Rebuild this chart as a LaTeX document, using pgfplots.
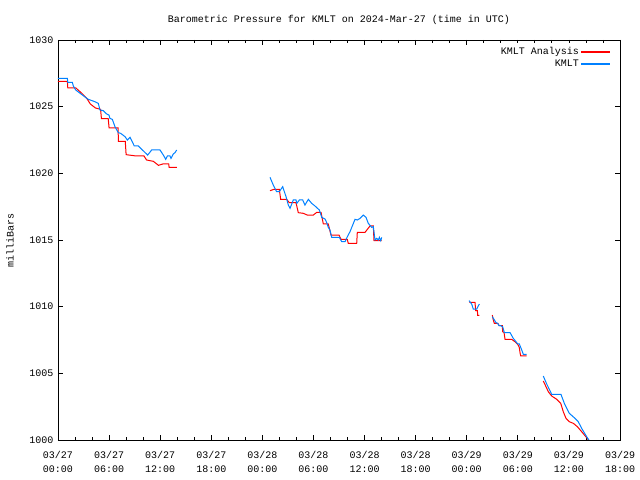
\documentclass[border=0pt]{standalone}
\usepackage{pgfplots}
\pgfplotsset{compat=1.18}
\usepackage{fontspec}
\setmainfont{Liberation Mono}
\definecolor{kred}{RGB}{255,0,0}
\definecolor{kblue}{RGB}{0,128,255}
\begin{document}
\begin{tikzpicture}
\useasboundingbox (0,0) rectangle (640bp,480bp);
\begin{axis}[
  at={(58bp,40bp)}, anchor=south west,
  scale only axis, width=562bp, height=400bp,
  xmin=0, xmax=66, ymin=1000, ymax=1030,
  font=\fontsize{10bp}{12bp}\selectfont,
  /pgf/number format/assume math mode=true,
  /pgf/number format/1000 sep={},
  xtick={0,6,...,66},
  xticklabels={{03/27\\00:00},{03/27\\06:00},{03/27\\12:00},{03/27\\18:00},{03/28\\00:00},{03/28\\06:00},{03/28\\12:00},{03/28\\18:00},{03/29\\00:00},{03/29\\06:00},{03/29\\12:00},{03/29\\18:00}},
  xticklabel style={align=center, font=\fontsize{10bp}{14bp}\selectfont, yshift=-8bp},
  minor x tick num=2,
  ytick={1000,1005,...,1030},
  yticklabel style={xshift=-1bp},
  major tick length=5bp, minor tick length=3bp,
  tick style={black, line width=0.8bp},
  axis line style={line width=0.8bp},
  title={Barometric Pressure for KMLT on 2024-Mar-27 (time in UTC)},
  title style={at={(0.5,1)}, anchor=south, yshift=9bp, inner sep=0pt},
  ylabel={milliBars},
  ylabel style={at={(axis description cs:-0.0854,0.5)}, anchor=center},
  unbounded coords=jump,
  legend style={at={(1,1)}, anchor=north east, xshift=-7bp, yshift=-3bp, draw=none, legend cell align=right, font=\fontsize{10bp}{12bp}\selectfont, row sep=0pt},
  legend plot pos=right,
]
\addplot[kred, line width=1bp, legend image code/.code={\fill[kred] (4bp,-0.5bp) rectangle (32bp,0.5bp);}] coordinates {
(0,1026.9)(1.1,1026.9)(1.15,1026.4)(2.1,1026.4)(2.8,1026.0)(3.4,1025.6)(3.8,1025.2)(4.4,1024.9)(5.0,1024.8)(5.1,1024.1)(5.9,1024.1)(6.0,1023.4)(7.05,1023.4)(7.1,1022.4)(7.9,1022.4)(8.0,1021.4)(9.2,1021.3)(10.1,1021.3)(10.4,1021.0)(11.2,1020.9)(11.8,1020.6)(12.3,1020.7)(13.0,1020.7)(13.05,1020.45)(13.95,1020.45)
(20,nan)
(24.9,1018.7)(25.37,1018.8)(25.99,1018.8)(26.15,1018.05)(26.86,1018.05)(27.16,1017.8)(27.95,1017.8)(28.22,1017.05)(28.81,1017.0)(29.28,1016.87)(29.98,1016.87)(30.38,1017.07)(30.89,1017.07)(31.16,1016.2)(31.74,1016.2)(32.06,1015.37)(33.0,1015.37)(33.24,1015.05)(33.97,1015.05)(34.09,1014.75)(35.08,1014.75)(35.15,1015.57)(36.05,1015.57)(36.64,1016.05)(37.03,1016.05)(37.11,1014.95)(38.02,1014.95)
(44,nan)
(48.3,1010.33)(48.97,1010.33)(49.05,1009.7)(49.25,1009.7)(49.29,1009.35)(49.48,1009.35)
(50,nan)
(51.0,1009.37)(51.12,1009.0)(51.24,1008.75)(51.64,1008.75)(51.83,1008.57)(52.18,1008.57)(52.22,1008.12)(52.38,1008.07)(52.5,1007.55)(53.28,1007.55)(53.67,1007.37)(53.94,1007.2)(54.06,1007.1)(54.18,1006.92)(54.26,1006.55)(54.34,1006.3)(55.04,1006.3)
(56,nan)
(56.99,1004.42)(57.31,1004.0)(57.58,1003.62)(57.98,1003.3)(58.57,1003.05)(59.04,1002.75)(59.34,1002.12)(59.66,1001.62)(60.05,1001.37)(60.52,1001.25)(60.99,1001.0)(61.5,1000.62)(62.09,1000.17)(62.3,1000.0)
};
\addlegendentry{KMLT Analysis}
\addplot[kblue, line width=1bp, legend image code/.code={\fill[kblue] (4bp,-0.5bp) rectangle (32bp,0.5bp);}] coordinates {
(0,1027.13)(1.1,1027.13)(1.15,1026.83)(1.68,1026.83)(1.8,1026.55)(2.08,1026.25)(3.37,1025.63)(3.56,1025.55)(4.35,1025.37)(4.73,1025.25)(4.93,1024.75)(5.32,1024.7)(5.72,1024.45)(5.99,1024.37)(6.1,1024.12)(6.38,1024.05)(6.69,1023.5)(7.08,1023.05)(7.36,1023.0)(7.87,1022.75)(8.14,1022.5)(8.46,1022.7)(8.96,1022.05)(9.43,1022.05)(10.53,1021.37)(11.0,1021.75)(11.98,1021.75)(12.37,1021.37)(12.65,1021.05)(12.84,1021.3)(13.15,1021.3)(13.27,1021.12)(13.54,1021.45)(13.74,1021.55)(13.94,1021.75)
(20,nan)
(24.9,1019.7)(25.28,1019.12)(25.68,1018.62)(25.99,1018.62)(26.39,1019.0)(26.54,1018.7)(26.78,1018.25)(27.05,1017.62)(27.25,1017.37)(27.63,1018.0)(27.95,1018.0)(28.05,1017.75)(28.34,1018.0)(28.74,1018.0)(29.0,1017.62)(29.4,1018.05)(29.79,1017.75)(30.18,1017.55)(30.69,1017.25)(30.97,1016.7)(31.36,1016.57)(31.56,1016.3)(31.74,1015.95)(31.94,1015.75)(32.14,1015.2)(33.04,1015.2)(33.32,1014.87)(33.71,1014.87)(33.98,1015.25)(34.29,1015.62)(34.88,1016.55)(35.15,1016.5)(35.47,1016.62)(35.85,1016.87)(36.17,1016.7)(36.44,1016.25)(36.84,1015.95)(37.03,1016.0)(37.23,1015.0)(37.43,1015.12)(37.62,1015.0)(37.74,1015.2)(37.9,1014.95)(38.02,1015.2)
(44,nan)
(48.27,1010.45)(48.58,1010.2)(48.77,1009.82)(49.17,1009.82)(49.48,1010.2)
(50,nan)
(51.0,1009.25)(51.2,1009.05)(51.44,1008.8)(51.64,1008.75)(51.8,1008.57)(52.0,1008.57)(52.22,1008.5)(52.42,1008.05)(53.09,1008.05)(53.47,1007.62)(53.79,1007.37)(53.99,1007.2)(54.18,1007.2)(54.46,1006.75)(54.65,1006.42)(55.04,1006.42)
(56,nan)
(56.99,1004.8)(57.39,1004.2)(57.78,1003.7)(57.98,1003.42)(59.07,1003.42)(59.46,1002.75)(60.05,1002.0)(60.72,1001.62)(61.1,1001.37)(61.5,1000.87)(62.16,1000.17)(62.35,1000.0)
};
\addlegendentry{KMLT}
\end{axis}
\end{tikzpicture}
\end{document}
